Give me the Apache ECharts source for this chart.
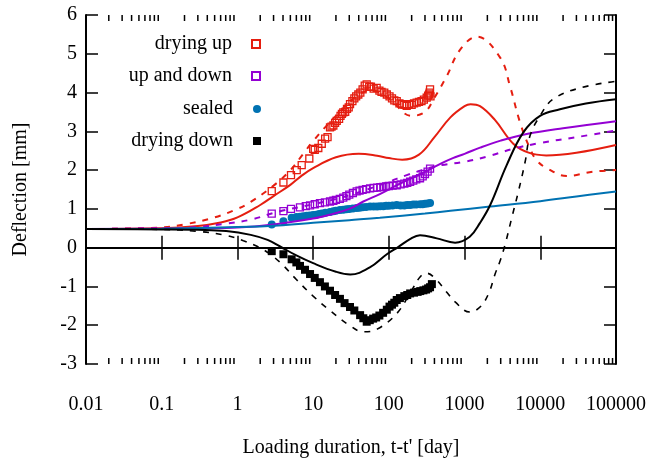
<!DOCTYPE html>
<html>
<head>
<meta charset="utf-8">
<script src="https://cdn.jsdelivr.net/npm/echarts@6/dist/echarts.min.js"></script>
<style>
html,body{margin:0;padding:0;background:#fff;}
#chart{width:657px;height:463px;}
</style>
</head>
<body>
<div id="chart"></div>
<script>
// ---------- data ----------
const xTickLabels = ['0.01','0.1','1','10','100','1000','10000','100000'];
const minorTickMultipliers = [2,3,4,5,6,7,8,9];

const dryingUpX = [2.84,4.05,5.1,6.07,7.06,8.9,10,10.5,11.7,13,14.4,15.5,16.7,17.5,18.5,19.5,20.5,22,23,24,25,26.5,28,29.5,30.7,33,35,37,39.5,42,45,48,51,55,58,63,69,75,80,87,94,102,110,118,127,138,150,160,172,185,200,215,233,250,270,290,316,330,340,345,350,355];
const dryingUpY = [1.46,1.68,1.87,2.0,2.13,2.30,2.55,2.52,2.57,2.68,2.81,2.85,3.10,3.12,3.15,3.22,3.27,3.32,3.40,3.45,3.49,3.50,3.58,3.62,3.70,3.78,3.85,3.90,3.95,4.00,4.08,4.18,4.21,4.15,4.15,4.10,4.12,4.05,4.02,4.00,3.95,3.90,3.85,3.80,3.78,3.72,3.70,3.68,3.66,3.70,3.68,3.72,3.74,3.76,3.78,3.82,3.87,3.92,3.95,4.00,4.08,3.90];

const upDownX = [2.84,4.05,5.1,6.7,8,9.1,10.5,12.3,14.3,16.7,18.5,20,22.5,25,27.5,30,33.5,37.6,41,45,50,56.5,63,70,77,84.5,92,100,112,127,143,160,175,191,210,230,258,280,300,325,350];
const upDownY = [0.88,0.94,1.0,1.04,1.07,1.09,1.12,1.15,1.17,1.19,1.21,1.23,1.26,1.29,1.33,1.37,1.41,1.45,1.47,1.49,1.51,1.53,1.54,1.55,1.56,1.57,1.58,1.59,1.60,1.61,1.63,1.65,1.67,1.70,1.73,1.76,1.79,1.84,1.90,1.96,2.04];

const sealedX = [2.84,4.05,5.2,6,6.7,7.4,8.2,9,10,11,12,13,14.5,16.7,18.5,20,22.5,25,27.5,30,33.5,37.6,41,45,50,56.5,63,70,77,84.5,92,100,112,127,143,160,175,191,210,230,260,280,300,325,350];
const sealedY = [0.60,0.68,0.77,0.79,0.80,0.81,0.82,0.83,0.84,0.85,0.87,0.88,0.90,0.92,0.94,0.95,0.97,0.98,0.99,1.00,1.01,1.02,1.03,1.04,1.05,1.06,1.06,1.06,1.07,1.07,1.08,1.08,1.09,1.10,1.09,1.09,1.10,1.10,1.11,1.11,1.12,1.12,1.13,1.14,1.15];

const dryingDownX = [2.84,4.05,5.2,6,6.7,7.8,9.1,10.5,12.3,14.3,16.7,19.5,22.6,26,30.7,35,41.7,46,51,56,62,68,75,84,94,102,110,118,127,140,160,175,191,215,240,260,286,310,330,350,370];
const dryingDownY = [-0.09,-0.17,-0.30,-0.38,-0.47,-0.57,-0.68,-0.78,-0.89,-1.00,-1.11,-1.22,-1.32,-1.43,-1.53,-1.62,-1.74,-1.82,-1.91,-1.87,-1.83,-1.80,-1.75,-1.68,-1.60,-1.52,-1.47,-1.42,-1.35,-1.30,-1.25,-1.22,-1.18,-1.16,-1.14,-1.12,-1.10,-1.08,-1.05,-1.02,-0.94];

// model curves
const redSolidX = [0.01,0.1,0.3,0.6,1,2,3,5,7,10,20,40,70,100,150,250,400,650,1000,1200,1600,2500,4400,7000,12000,30000,100000];
const redSolidY = [0.48,0.50,0.56,0.65,0.78,1.10,1.33,1.62,1.85,2.05,2.33,2.42,2.37,2.31,2.27,2.40,2.85,3.36,3.65,3.70,3.65,3.30,2.68,2.45,2.38,2.45,2.65];

const redDashX = [0.01,0.1,0.2,0.5,1,1.5,3,5,7.4,10,20,40,60,100,200,300,390,580,870,1450,2950,4000,5400,7330,9000,12200,22400,50000,100000];
const redDashY = [0.48,0.52,0.60,0.78,1.0,1.18,1.60,2.0,2.42,2.75,3.40,3.95,4.05,3.85,3.40,3.50,3.83,4.42,5.10,5.44,4.90,4.15,3.23,2.55,2.25,2.05,1.85,1.96,2.0];

const purpleSolidX = [0.01,0.1,0.3,1,3,10,16.7,30,46,76,150,250,350,500,700,1000,1600,3000,6600,20000,100000];
const purpleSolidY = [0.48,0.49,0.50,0.52,0.60,0.75,0.85,1.00,1.19,1.38,1.68,1.88,2.02,2.18,2.31,2.42,2.58,2.76,2.93,3.08,3.26];

const purpleDashX = [0.01,0.1,0.3,0.7,1.47,3.66,10,30,100,172,350,500,955,2000,4400,10000,30000,100000];
const purpleDashY = [0.48,0.50,0.53,0.62,0.72,0.94,1.12,1.35,1.70,1.87,2.06,2.13,2.21,2.35,2.55,2.70,2.85,3.02];

const blueSolidX = [0.01,0.1,1,4,10,30,76,300,650,2180,10000,30000,100000];
const blueSolidY = [0.48,0.49,0.53,0.58,0.64,0.71,0.77,0.88,0.95,1.06,1.20,1.32,1.45];

const blackSolidX = [0.01,0.1,0.3,0.71,1.5,2.5,3.66,6,10,20,31,56,94,134,190,258,430,750,1170,1600,2180,3600,6000,9930,18200,40000,100000];
const blackSolidY = [0.48,0.47,0.46,0.43,0.33,0.20,0.03,-0.20,-0.40,-0.62,-0.69,-0.51,-0.17,0.02,0.22,0.32,0.24,0.13,0.28,0.64,1.10,2.13,2.98,3.40,3.57,3.72,3.83];

const blackDashX = [0.01,0.1,0.3,0.7,1.2,2.2,3.66,6,10,16.7,30,46,70,127,200,260,316,420,582,750,1170,1600,2070,2530,2950,3430,4200,5140,6300,7330,9930,14800,33600,100000];
const blackDashY = [0.48,0.47,0.42,0.32,0.18,-0.05,-0.38,-0.82,-1.25,-1.62,-2.0,-2.17,-2.10,-1.70,-1.10,-0.75,-0.66,-0.82,-1.15,-1.40,-1.66,-1.53,-1.19,-0.68,-0.34,0.08,0.77,1.45,2.21,2.89,3.40,3.83,4.12,4.29];

// ---------- helpers ----------
const zip = (xs, ys) => xs.map((x, i) => [x, ys[i]]);
const FONT = 'Liberation Serif';
const RED = '#e51e10', PURPLE = '#9400d3', BLUE = '#0072b2', BLACK = '#000000';

const chart = echarts.init(document.getElementById('chart'), null, {renderer: 'canvas'});

function logAxis(pos, showLabels) {
  return {
    type: 'log', logBase: 10, min: 0.01, max: 100000, splitNumber: 7,
    position: pos,
    axisLine: {show: true, lineStyle: {color: BLACK, width: 2}},
    axisTick: {show: true, inside: true, length: 12, lineStyle: {color: BLACK, width: 1.5}},
    axisLabel: {
      show: showLabels, margin: 31, color: BLACK, fontFamily: FONT, fontSize: 20,
      formatter: v => xTickLabels[Math.round(Math.log10(v)) + 2]
    },
    splitLine: {show: false},
    minorTick: {show: false}
  };
}
function valAxis(pos, showLabels) {
  return {
    type: 'value', min: -3, max: 6, interval: 1, position: pos,
    axisLine: {show: true, onZero: false, lineStyle: {color: BLACK, width: 2}},
    axisTick: {show: true, inside: true, length: 12, lineStyle: {color: BLACK, width: 1.5}},
    axisLabel: {show: showLabels, margin: 9, color: BLACK, fontFamily: FONT, fontSize: 20},
    splitLine: {show: false}
  };
}

const xA = logAxis('bottom', true);
xA.name = "Loading duration, t-t' [day]";
xA.nameLocation = 'middle';
xA.nameGap = 74;
xA.nameTextStyle = {color: BLACK, fontFamily: FONT, fontSize: 20};
const xB = logAxis('top', false);

const yA = valAxis('left', true);
yA.name = 'Deflection [mm]';
yA.nameLocation = 'middle';
yA.nameGap = 55;
yA.nameTextStyle = {color: BLACK, fontFamily: FONT, fontSize: 20};
const yB = valAxis('right', false);

function scatter(name, xs, ys, symbol, color, open) {
  return {
    name, type: 'scatter', data: zip(xs, ys), symbol, symbolSize: open ? 7 : 8,
    itemStyle: open ? {color: 'rgba(255,255,255,0)', borderColor: color, borderWidth: 1.3, opacity: 1}
                    : {color: color, opacity: 1},
    emphasis: {disabled: true}, z: 2
  };
}
function line(name, xs, ys, color, dashed, width) {
  return {
    name, type: 'line', data: zip(xs, ys), showSymbol: false, symbol: 'none',
    smooth: 0.4,
    lineStyle: {color, width: width || 2, type: dashed ? [6, 7] : 'solid'},
    emphasis: {disabled: true}, z: 3
  };
}

const legendNames = ['drying up', 'up and down', 'sealed', 'drying down'];
const legendTops = [34, 66, 99, 131];
const legends = legendNames.map((n, i) => ({
  data: [n], orient: 'vertical', align: 'right', right: 396, top: legendTops[i],
  itemWidth: 8, itemHeight: 8, padding: 0, selectedMode: false,
  textStyle: {color: BLACK, fontFamily: FONT, fontSize: 20, padding: [0, 15, 0, 0]}
}));

const series = [
  scatter('drying up', dryingUpX, dryingUpY, 'rect', RED, true),
  scatter('up and down', upDownX, upDownY, 'rect', PURPLE, true),
  scatter('sealed', sealedX, sealedY, 'circle', BLUE, false),
  scatter('drying down', dryingDownX, dryingDownY, 'rect', BLACK, false),
  line('model drying up A', redSolidX, redSolidY, RED, false),
  line('model drying up B', redDashX, redDashY, RED, true),
  line('model up and down A', purpleSolidX, purpleSolidY, PURPLE, false),
  line('model up and down B', purpleDashX, purpleDashY, PURPLE, true),
  line('model sealed', blueSolidX, blueSolidY, BLUE, false),
  line('model drying down A', blackSolidX, blackSolidY, BLACK, false),
  line('model drying down B', blackDashX, blackDashY, BLACK, true, 1.6)
];
// zero line
series[9].markLine = {
  silent: true, symbol: ['none', 'none'], label: {show: false},
  lineStyle: {color: BLACK, width: 2, type: 'solid'},
  data: [{yAxis: 0}]
};

chart.setOption({
  animation: false,
  backgroundColor: '#fff',
  grid: {left: 86, right: 41, top: 15, bottom: 96, containLabel: false},
  xAxis: [xA, xB],
  yAxis: [yA, yB],
  legend: legends,
  series
});

// minor ticks on the log axes (positions from the axis scale)
const yBottom = chart.convertToPixel({yAxisIndex: 0}, -3);
const yTop = chart.convertToPixel({yAxisIndex: 0}, 6);
const graphics = [];
for (let k = -2; k <= 4; k++) {
  for (const m of minorTickMultipliers) {
    const v = m * Math.pow(10, k);
    const px = chart.convertToPixel({xAxisIndex: 0}, v);
    graphics.push({type: 'line', shape: {x1: px, y1: yBottom, x2: px, y2: yBottom - 6},
      style: {stroke: BLACK, lineWidth: 1.5}, silent: true, z: 10});
    graphics.push({type: 'line', shape: {x1: px, y1: yTop, x2: px, y2: yTop + 6},
      style: {stroke: BLACK, lineWidth: 1.5}, silent: true, z: 10});
  }
}
chart.setOption({graphic: graphics});
</script>
</body>
</html>
